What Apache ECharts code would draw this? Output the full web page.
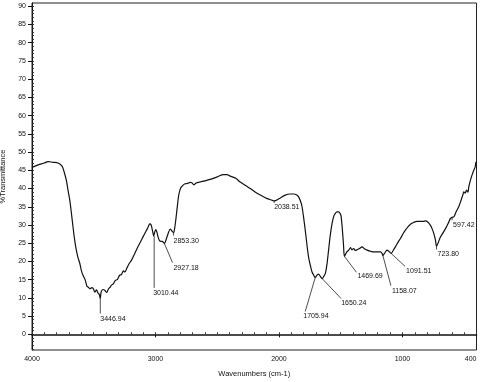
<!DOCTYPE html>
<html>
<head>
<meta charset="utf-8">
<script src="https://cdn.jsdelivr.net/npm/echarts@6/dist/echarts.min.js"></script>
<style>
html,body{margin:0;padding:0;background:#fff;}
#chart{width:481px;height:382px;}
</style>
</head>
<body>
<div id="chart"></div>
<script>
// Spectrum data (wavenumber, %T)
const wavenumbers = [4000,3950,3900,3870,3830,3789,3760,3749,3735,3722,3708,3694,3680,3668,3655,3641,3627,3613,3600,3587,3570,3555,3546,3530,3515,3505,3490,3478,3465,3455,3447,3440,3425,3411,3395,3380,3365,3357,3340,3325,3310,3303,3290,3275,3260,3248,3230,3215,3195,3170,3150,3127,3100,3075,3060,3046,3035,3025,3014,3008,2998,2990,2978,2965,2950,2940,2927,2915,2900,2880,2866,2853,2845,2835,2820,2810,2795,2780,2760,2740,2720,2705,2690,2684,2670,2638,2600,2557,2500,2449,2420,2395,2350,2314,2270,2232,2190,2151,2100,2057,2038,2000,1949,1910,1881,1855,1841,1825,1813,1800,1787,1773,1760,1745,1732,1718,1706,1690,1679,1665,1650,1637,1624,1612,1598,1585,1570,1555,1543,1530,1517,1505,1497,1487,1477,1470,1460,1450,1435,1420,1410,1395,1380,1367,1345,1327,1305,1286,1260,1233,1205,1178,1165,1158,1145,1124,1110,1092,1075,1057,1035,1016,995,976,955,935,910,881,850,830,813,795,773,760,746,732,724,712,692,670,651,630,611,597,584,565,544,525,510,503,492,481,470,462,449,435,422,410,405];
const transmittance = [45.8,46.5,47.0,47.4,47.2,47.0,46.3,45.6,44.0,42.3,39.5,36.8,33.0,29.5,26.0,23.1,21.0,19.5,17.5,16.2,15.0,13.2,13.0,12.5,12.8,12.6,11.6,12.2,11.3,11.0,9.8,11.6,12.3,12.1,11.5,12.5,13.0,13.5,13.9,14.8,15.0,15.4,16.2,16.4,17.4,17.1,18.3,19.3,20.3,22.0,23.5,25.0,26.8,28.4,29.4,30.3,30.0,28.6,27.0,27.8,28.7,28.2,26.6,25.6,25.5,25.4,24.9,25.9,27.4,28.9,28.3,27.9,29.0,31.5,36.0,38.5,40.2,40.8,41.3,41.4,41.7,41.6,41.0,41.1,41.5,41.8,42.1,42.5,43.2,43.8,43.8,43.4,42.8,41.8,40.8,40.0,39.0,38.2,37.3,36.8,36.6,37.2,38.2,38.5,38.5,38.2,37.7,36.5,35.0,32.0,28.6,24.5,21.2,18.8,17.1,16.2,15.6,16.3,16.5,15.9,15.3,15.9,16.7,19.0,23.1,27.0,30.4,32.5,33.2,33.6,33.6,33.2,32.5,29.0,24.5,21.4,22.0,22.6,23.1,23.8,23.2,23.5,23.0,23.2,23.6,24.0,23.4,23.1,22.8,22.6,22.6,22.6,22.2,21.6,22.2,23.1,22.8,22.2,23.0,24.0,25.3,26.3,27.6,28.6,29.5,30.2,30.7,31.0,31.0,31.0,31.1,30.8,29.9,29.0,27.7,25.8,24.1,25.0,26.7,27.9,29.0,30.4,31.8,32.1,32.2,33.6,35.0,36.8,38.3,39.1,38.7,39.6,39.0,40.5,42.3,43.8,45.0,46.0,47.3];

// Peak annotations
const peakWavenumbers = [3446.94,3010.44,2927.18,2853.30,2038.51,1705.94,1650.24,1469.69,1158.07,1091.51,723.80,597.42];
const peakTransmittance = [9.8,27.0,24.9,27.9,36.6,15.6,15.3,21.4,21.6,22.2,24.1,32.1];
const peakLabels = ["3446.94","3010.44","2927.18","2853.30","2038.51","1705.94","1650.24","1469.69","1158.07","1091.51","723.80","597.42"];

// Axis ticks
const xTickLabels = [4000,3000,2000,1000,400];
const yTickLabels = [0,5,10,15,20,25,30,35,40,45,50,55,60,65,70,75,80,85,90];

// Layout of leader lines / labels (pixel offsets from peak point) - style only
const leaderOffsets = [[0,15],[0,52],[8,19],[0,3],[0,2],[-10,34],[19,20],[12,16],[8,30],[14,13],[0,3],[0,3]];
const textOffsets = [[0,20],[-1,57],[9,24],[0,8],[0,6],[-12,39],[19,25],[13,20],[9,35],[15,18],[1,8],[1,8]];

const yMinorTicks = [];
for (let v = -4; v <= 90; v++) yMinorTicks.push(v);
const xMinorTicks = [];
for (let v = 400; v <= 4000; v += 100) xMinorTicks.push(v);

const XMIN = 400, XMAX = 4000, YMIN = -4.3, YMAX = 90.9;
const textColor = '#111';
const fontFam = '"Liberation Sans", Arial, sans-serif';

const chart = echarts.init(document.getElementById('chart'), null, {renderer: 'canvas'});

const spectrum = wavenumbers.map((w, i) => [w, transmittance[i]]);
const peaks = peakWavenumbers.map((w, i) => [w, peakTransmittance[i], i]);

chart.setOption({
  animation: false,
  backgroundColor: '#fff',
  grid: {left: 32, right: 4.5, top: 3, bottom: 32, show: true, borderColor: '#222', borderWidth: 1,
         containLabel: false, outerBoundsMode: 'none'},
  xAxis: [{
    type: 'value', min: XMIN, max: XMAX, inverse: true,
    name: 'Wavenumbers (cm-1)', nameLocation: 'middle', nameGap: 20,
    nameTextStyle: {fontSize: 7.5, color: textColor, fontFamily: fontFam},
    axisLine: {show: true, lineStyle: {color: '#111', width: 1.6}},
    axisTick: {show: true, length: 3, customValues: xTickLabels, lineStyle: {color: '#111'}},
    axisLabel: {customValues: xTickLabels, formatter: v => String(v), fontSize: 7, color: textColor,
                fontFamily: fontFam, margin: 6, alignMaxLabel: 'right'},
    splitLine: {show: false}
  }, {
    type: 'value', min: XMIN, max: XMAX, inverse: true, position: 'bottom', gridIndex: 0,
    axisLine: {show: false},
    axisTick: {show: true, inside: true, length: 2, customValues: xMinorTicks, lineStyle: {color: '#333'}},
    axisLabel: {show: false}, splitLine: {show: false}
  }],
  yAxis: [{
    type: 'value', min: YMIN, max: YMAX,
    name: '%Transmittance', nameLocation: 'middle', nameGap: 24,
    nameTextStyle: {fontSize: 7.5, color: textColor, fontFamily: fontFam},
    axisLine: {show: true, lineStyle: {color: '#111', width: 1}},
    axisTick: {show: true, length: 4, customValues: yTickLabels, lineStyle: {color: '#111'}},
    axisLabel: {customValues: yTickLabels, formatter: v => String(v), fontSize: 7, color: textColor, fontFamily: fontFam, margin: 6},
    splitLine: {show: false}
  }, {
    type: 'value', min: YMIN, max: YMAX, position: 'left',
    axisLine: {show: false},
    axisTick: {show: true, inside: true, length: 2, customValues: yMinorTicks, lineStyle: {color: '#333'}},
    axisLabel: {show: false}, splitLine: {show: false}
  }],
  series: [{
    type: 'line', data: spectrum, xAxisIndex: 0, yAxisIndex: 0,
    showSymbol: false, smooth: 0.3,
    lineStyle: {color: '#111', width: 1.2}
  }, {
    type: 'custom', data: peaks, xAxisIndex: 0, yAxisIndex: 0,
    renderItem: function (params, api) {
      const idx = api.value(2);
      const p = api.coord([api.value(0), api.value(1)]);
      const lo = leaderOffsets[idx], to = textOffsets[idx];
      return {
        type: 'group',
        children: [{
          type: 'line',
          shape: {x1: p[0], y1: p[1], x2: p[0] + lo[0], y2: p[1] + lo[1]},
          style: {stroke: '#222', lineWidth: 0.8}
        }, {
          type: 'text',
          style: {
            x: p[0] + to[0], y: p[1] + to[1],
            text: peakLabels[idx], fill: textColor,
            font: '7px ' + fontFam, textAlign: 'left', textVerticalAlign: 'middle'
          }
        }]
      };
    }
  }]
});
</script>
</body>
</html>
